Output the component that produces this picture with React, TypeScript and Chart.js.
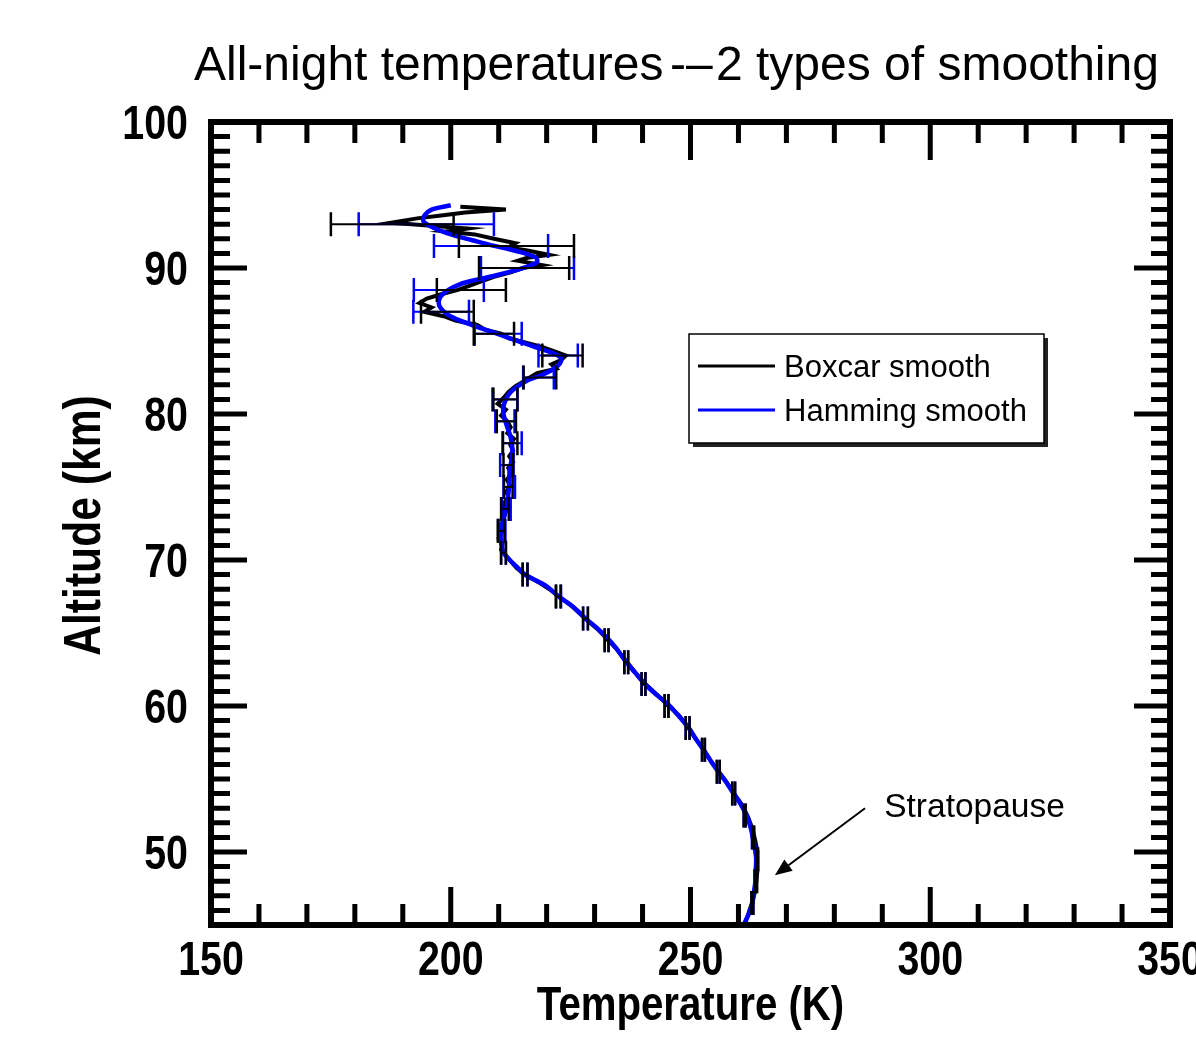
import { useEffect, useRef } from "react";
import { Chart, registerables } from "chart.js";

Chart.register(...registerables);

// ---------- text ----------
const TITLE_PARTS = ["All-night temperatures", "-–", "2 types of smoothing"];
const X_LABEL = "Temperature (K)";
const Y_LABEL = "Altitude (km)";
const SERIES_LABELS = ["Boxcar smooth", "Hamming smooth"];
const ANNOTATION_TEXT = "Stratopause";

// ---------- axes ----------
const X_MIN = 150;
const X_MAX = 350;
const Y_MIN = 45;
const Y_MAX = 100;
const X_TICKS = [150, 200, 250, 300, 350];
const Y_TICKS = [50, 60, 70, 80, 90, 100];
const X_MINOR_STEP = 10;
const Y_MINOR_STEP = 1;

// ---------- Boxcar smooth (black) ----------
const boxcarAlt = [
  94.2, 94.0, 93.8, 93.6, 93.4, 93.1, 92.9, 92.7, 92.5, 92.3, 92.0, 91.7, 91.4, 91.2, 90.9, 90.7,
  90.5, 90.2, 90.0, 89.7, 89.4, 89.1, 88.8, 88.5, 88.2, 87.9, 87.6, 87.3, 87.0, 86.7, 86.4, 86.1,
  85.8, 85.5, 85.2, 84.9, 84.6, 84.3, 84.0, 83.7, 83.4, 83.1, 82.8, 82.5, 82.2, 81.9, 81.5, 81.1,
  80.7, 80.3, 79.9, 79.5, 79.1, 78.7, 78.3, 77.9, 77.5, 77.1, 76.7, 76.3, 75.9, 75.5, 75.1, 74.7,
  74.3, 73.9, 73.5, 73.1, 72.7, 72.3, 71.9, 71.5, 71.1, 70.7, 70.3, 70.0, 69.5, 69.0, 68.5, 68.0,
  67.5, 66.8, 66.0, 65.3, 64.6, 63.9, 63.0, 62.3, 61.6, 60.8, 60.1, 59.3, 58.5, 57.7, 57.0, 56.2,
  55.5, 54.8, 54.0, 53.2, 52.4, 51.6, 50.8, 50.1, 49.5, 48.7, 47.9, 47.2, 46.5, 45.8, 45.3, 45.0,
];
const boxcarTemp = [
  202.0, 211.5, 203.0, 198.0, 193.0, 187.5, 196.0, 203.5, 199.0, 205.0, 209.0, 213.5, 212.0, 216.0, 220.5, 216.0,
  214.0, 219.0, 215.0, 212.5, 209.0, 206.5, 204.0, 201.5, 198.0, 195.0, 193.5, 196.0, 194.5, 198.5, 201.0, 205.5,
  207.0, 210.5, 212.0, 215.5, 219.0, 221.5, 224.0, 223.0, 221.0, 222.0, 218.0, 216.5, 215.0, 213.5, 212.0, 211.0,
  209.8, 211.5, 210.5, 211.8, 212.5, 211.8, 213.2, 212.4, 213.0, 212.2, 213.0, 212.0, 212.6, 211.7, 212.4, 211.6,
  212.0, 211.1, 211.4, 210.8, 211.0, 210.2, 210.6, 210.0, 210.8, 210.5, 211.5, 212.3, 213.6, 215.3, 218.2, 220.6,
  222.6, 225.4, 228.0, 230.5, 232.6, 234.6, 236.8, 238.5, 240.3, 242.9, 245.2, 247.7, 249.7, 251.2, 252.8, 254.3,
  255.9, 257.5, 259.1, 260.8, 262.0, 262.9, 263.5, 263.9, 264.0, 263.9, 263.7, 263.4, 262.8, 262.1, 261.6, 261.2,
];

// ---------- Hamming smooth (blue) ----------
const hammingAlt = [
  94.3, 94.0, 93.6, 93.2, 92.9, 92.6, 92.2, 91.9, 91.6, 91.3, 91.0, 90.7, 90.4, 90.1, 89.8, 89.5,
  89.2, 88.9, 88.5, 88.1, 87.7, 87.3, 86.9, 86.6, 86.2, 85.8, 85.4, 85.0, 84.6, 84.2, 83.9, 83.6,
  83.3, 83.0, 82.6, 82.3, 81.9, 81.5, 81.0, 80.5, 80.0, 79.4, 78.9, 78.4, 77.8, 77.3, 76.7, 76.2,
  75.5, 74.8, 74.2, 73.5, 72.9, 72.3, 71.6, 71.0, 70.5, 70.0, 69.5, 69.0, 68.6, 68.2, 67.5, 66.8,
  66.0, 65.4, 64.7, 64.0, 63.0, 62.3, 61.6, 60.8, 60.1, 59.3, 58.5, 57.7, 57.0, 56.2, 55.5, 54.8,
  54.0, 53.2, 52.4, 51.6, 50.8, 50.1, 49.5, 48.7, 47.9, 47.2, 46.5, 45.8, 45.3, 45.0,
];
const hammingTemp = [
  200.0, 196.0, 194.5, 194.3, 195.5, 197.5, 201.0, 204.5, 208.0, 212.0, 215.5, 217.8, 218.0, 216.0, 213.0, 209.5,
  205.5, 202.0, 199.5, 198.0, 197.5, 197.8, 199.0, 200.5, 203.5, 207.0, 210.5, 214.0, 217.5, 221.0, 222.8, 223.0,
  222.3, 221.0, 218.5, 216.0, 214.0, 212.5, 211.5, 211.0, 211.0, 211.5, 212.0, 212.5, 212.8, 212.9, 212.6, 212.3,
  212.2, 212.1, 211.9, 211.6, 211.1, 210.7, 210.4, 210.6, 211.0, 212.3, 213.9, 215.5, 217.8, 220.0, 222.5, 225.5,
  228.1, 230.3, 232.5, 234.4, 236.6, 238.4, 240.2, 242.8, 245.4, 247.6, 249.6, 251.2, 252.7, 254.3, 255.8, 257.4,
  259.0, 260.6, 261.8, 262.6, 263.1, 263.5, 263.7, 263.6, 263.5, 263.2, 262.9, 262.2, 261.5, 261.0,
];

// ---------- error bars ----------
const errAlt = [
  93.0, 91.5, 90.0, 88.5, 87.0, 85.5, 84.0, 82.5, 81.0, 79.5, 78.0, 76.5, 75.0, 73.5, 72.0, 70.5,
  69.0, 67.5, 66.0, 64.5, 63.0, 61.5, 60.0, 58.5, 57.0, 55.5, 54.0, 52.5, 51.0, 49.5, 48.0, 46.5,
];
const boxcarErrCenter = [
  187.8, 213.7, 215.3, 204.3, 199.3, 209.0, 223.3, 218.6, 211.4, 211.6, 212.4, 212.0, 212.0, 211.3, 210.5, 211.0,
  215.5, 222.4, 228.1, 232.5, 236.6, 240.2, 245.0, 249.4, 252.7, 255.8, 259.0, 261.3, 263.1, 263.9, 263.7, 262.9,
];
const boxcarErrHalf = [
  12.8, 12.0, 9.4, 7.2, 5.5, 4.2, 4.2, 3.4, 2.5, 2.0, 1.5, 1.0, 0.9, 0.8, 0.7, 0.5,
  0.5, 0.5, 0.5, 0.4, 0.4, 0.4, 0.4, 0.4, 0.3, 0.3, 0.3, 0.2, 0.2, 0.2, 0.2, 0.2,
];
const hammingErrCenter = [
  194.9, 208.4, 216.0, 199.6, 198.0, 209.9, 222.4, 218.3, 211.3, 211.3, 212.8, 211.7, 212.2, 211.6, 210.7, 211.0,
  215.5, 222.5, 228.1, 232.5, 236.6, 240.2, 245.0, 249.4, 252.7, 255.8, 259.0, 261.3, 263.0, 263.7, 263.5, 262.9,
];
const hammingErrHalf = [
  14.1, 11.9, 9.7, 7.3, 5.8, 4.9, 4.1, 3.2, 2.6, 2.0, 2.0, 1.4, 1.2, 0.9, 0.7, 0.5,
  0.5, 0.5, 0.5, 0.4, 0.4, 0.4, 0.4, 0.4, 0.3, 0.3, 0.3, 0.2, 0.2, 0.2, 0.2, 0.2,
];

// ---------- annotation (data coordinates) ----------
const annotationTextAt = { x: 290.4, y: 52.4 };
const arrowFrom = { x: 286.4, y: 53.0 };
const arrowTo = { x: 267.6, y: 48.4 };

const BLACK = "#000000";
const BLUE = "#0000ff";
const SANS = "'Liberation Sans', Arial, Helvetica, sans-serif";
const NARROW_SCALE = 0.82;

const toPoints = (xs: number[], ys: number[]) => xs.map((x, i) => ({ x, y: ys[i] }));

// draws horizontally-condensed bold text (Helvetica Narrow look)
function narrowText(
  ctx: CanvasRenderingContext2D,
  text: string,
  x: number,
  y: number,
  size: number,
  align: CanvasTextAlign,
  rotate = 0
) {
  ctx.save();
  ctx.translate(x, y);
  if (rotate) ctx.rotate(rotate);
  ctx.scale(NARROW_SCALE, 1);
  ctx.font = `bold ${size}px ${SANS}`;
  ctx.fillStyle = "#000";
  ctx.textAlign = align;
  ctx.textBaseline = "alphabetic";
  ctx.fillText(text, 0, 0);
  ctx.restore();
}

const axisTextPlugin = {
  id: "axisText",
  afterDraw(chart: any) {
    const { ctx, chartArea: a, scales } = chart;
    const xs = scales.x;
    const ys = scales.y;
    X_TICKS.forEach((v) => narrowText(ctx, String(v), xs.getPixelForValue(v), 975, 48, "center"));
    Y_TICKS.forEach((v) => narrowText(ctx, String(v), 188, ys.getPixelForValue(v) + 17, 48, "right"));
    narrowText(ctx, X_LABEL, (a.left + a.right) / 2, 1020, 49, "center");
    narrowText(ctx, Y_LABEL, 100, (a.top + a.bottom) / 2 + 2, 52, "center", -Math.PI / 2);
  },
};

const titlePlugin = {
  id: "titleText",
  afterDraw(chart: any) {
    const ctx = chart.ctx;
    ctx.save();
    ctx.fillStyle = "#000";
    ctx.font = `48px ${SANS}`;
    ctx.textBaseline = "alphabetic";
    ctx.textAlign = "left";
    const xs = [194, 670, 716];
    TITLE_PARTS.forEach((t, i) => ctx.fillText(t, xs[i], 80));
    ctx.restore();
  },
};

const errorBarPlugin = {
  id: "errorBars",
  afterDatasetsDraw(chart: any) {
    const { ctx, scales } = chart;
    const xs = scales.x;
    const ys = scales.y;
    const drawSet = (centers: number[], halves: number[], color: string) => {
      ctx.save();
      ctx.strokeStyle = color;
      ctx.lineCap = "butt";
      errAlt.forEach((a, i) => {
        const py = ys.getPixelForValue(a);
        const x1 = xs.getPixelForValue(centers[i] - halves[i]);
        const x2 = xs.getPixelForValue(centers[i] + halves[i]);
        ctx.lineWidth = 2;
        ctx.beginPath();
        ctx.moveTo(x1, py);
        ctx.lineTo(x2, py);
        ctx.stroke();
        ctx.lineWidth = 2.5;
        ctx.beginPath();
        ctx.moveTo(x1, py - 12);
        ctx.lineTo(x1, py + 12);
        ctx.moveTo(x2, py - 12);
        ctx.lineTo(x2, py + 12);
        ctx.stroke();
      });
      ctx.restore();
    };
    drawSet(hammingErrCenter, hammingErrHalf, BLUE);
    drawSet(boxcarErrCenter, boxcarErrHalf, BLACK);
  },
};

const frameTicksPlugin = {
  id: "frameTicks",
  afterDatasetsDraw(chart: any) {
    const { ctx, chartArea: a, scales } = chart;
    const xs = scales.x;
    const ys = scales.y;
    ctx.save();
    ctx.strokeStyle = "#000";
    ctx.lineCap = "butt";
    ctx.lineWidth = 5;
    ctx.beginPath();
    for (let v = X_MIN + X_MINOR_STEP; v < X_MAX; v += X_MINOR_STEP) {
      const px = xs.getPixelForValue(v);
      const len = X_TICKS.includes(v) ? 38 : 21;
      ctx.moveTo(px, a.bottom);
      ctx.lineTo(px, a.bottom - len);
      ctx.moveTo(px, a.top);
      ctx.lineTo(px, a.top + len);
    }
    for (let v = Y_MIN + Y_MINOR_STEP; v < Y_MAX; v += Y_MINOR_STEP) {
      const py = ys.getPixelForValue(v);
      const len = Y_TICKS.includes(v) ? 36 : 19;
      ctx.moveTo(a.left, py);
      ctx.lineTo(a.left + len, py);
      ctx.moveTo(a.right, py);
      ctx.lineTo(a.right - len, py);
    }
    ctx.stroke();
    ctx.lineWidth = 6;
    ctx.strokeRect(a.left, a.top, a.right - a.left, a.bottom - a.top);
    ctx.restore();
  },
};

const legendPlugin = {
  id: "boxLegend",
  afterDraw(chart: any) {
    const ctx = chart.ctx;
    const bx = 689;
    const by = 334;
    const bw = 355;
    const bh = 109;
    ctx.save();
    ctx.fillStyle = "#222";
    ctx.fillRect(bx + 4, by + 4, bw, bh);
    ctx.fillStyle = "#fff";
    ctx.fillRect(bx, by, bw, bh);
    ctx.strokeStyle = "#000";
    ctx.lineWidth = 1.5;
    ctx.strokeRect(bx, by, bw, bh);
    const rows = [366, 410];
    chart.data.datasets.forEach((ds: any, i: number) => {
      const y = rows[i];
      ctx.strokeStyle = ds.borderColor;
      ctx.lineWidth = 3;
      ctx.beginPath();
      ctx.moveTo(698, y);
      ctx.lineTo(775, y);
      ctx.stroke();
      ctx.fillStyle = "#000";
      ctx.font = `31px ${SANS}`;
      ctx.textBaseline = "middle";
      ctx.textAlign = "left";
      ctx.fillText(ds.label, 784, y + 2);
    });
    ctx.restore();
  },
};

const annotationPlugin = {
  id: "stratoAnnotation",
  afterDraw(chart: any) {
    const { ctx, scales } = chart;
    const xs = scales.x;
    const ys = scales.y;
    const tx = xs.getPixelForValue(annotationTextAt.x);
    const ty = ys.getPixelForValue(annotationTextAt.y);
    const fx = xs.getPixelForValue(arrowFrom.x);
    const fy = ys.getPixelForValue(arrowFrom.y);
    const ex = xs.getPixelForValue(arrowTo.x);
    const ey = ys.getPixelForValue(arrowTo.y);
    ctx.save();
    ctx.fillStyle = "#000";
    ctx.font = `33.5px ${SANS}`;
    ctx.textBaseline = "alphabetic";
    ctx.textAlign = "left";
    ctx.fillText(ANNOTATION_TEXT, tx, ty);
    const ang = Math.atan2(ey - fy, ex - fx);
    const headLen = 17;
    const headW = 7;
    const bx = ex - headLen * Math.cos(ang);
    const by = ey - headLen * Math.sin(ang);
    ctx.strokeStyle = "#000";
    ctx.lineWidth = 2;
    ctx.beginPath();
    ctx.moveTo(fx, fy);
    ctx.lineTo(bx, by);
    ctx.stroke();
    ctx.beginPath();
    ctx.moveTo(ex, ey);
    ctx.lineTo(bx + headW * Math.sin(ang), by - headW * Math.cos(ang));
    ctx.lineTo(bx - headW * Math.sin(ang), by + headW * Math.cos(ang));
    ctx.closePath();
    ctx.fill();
    ctx.restore();
  },
};

export default function App() {
  const ref = useRef<HTMLCanvasElement | null>(null);

  useEffect(() => {
    if (!ref.current) return;
    const chart = new Chart(ref.current, {
      type: "scatter",
      data: {
        datasets: [
          {
            label: SERIES_LABELS[0],
            data: toPoints(boxcarTemp, boxcarAlt),
            showLine: true,
            borderColor: BLACK,
            backgroundColor: BLACK,
            borderWidth: 4,
            pointRadius: 0,
            tension: 0,
            order: 1,
          },
          {
            label: SERIES_LABELS[1],
            data: toPoints(hammingTemp, hammingAlt),
            showLine: true,
            borderColor: BLUE,
            backgroundColor: BLUE,
            borderWidth: 4.5,
            pointRadius: 0,
            tension: 0.3,
            order: 0,
          },
        ],
      },
      options: {
        responsive: false,
        animation: false,
        devicePixelRatio: 1,
        layout: { padding: { top: 122, right: 26, bottom: 0, left: 0 } },
        plugins: {
          legend: { display: false },
          title: { display: false },
          tooltip: { enabled: false },
        },
        scales: {
          x: {
            type: "linear",
            position: "bottom",
            min: X_MIN,
            max: X_MAX,
            grid: { display: false, drawTicks: false },
            border: { display: false },
            afterBuildTicks: (s: any) => {
              s.ticks = X_TICKS.map((v) => ({ value: v }));
            },
            afterFit: (s: any) => {
              s.height = 121;
              s.paddingLeft = 0;
              s.paddingRight = 0;
            },
            ticks: { display: false },
            title: { display: false, text: X_LABEL },
          },
          y: {
            type: "linear",
            position: "left",
            min: Y_MIN,
            max: Y_MAX,
            grid: { display: false, drawTicks: false },
            border: { display: false },
            afterBuildTicks: (s: any) => {
              s.ticks = Y_TICKS.map((v) => ({ value: v }));
            },
            afterFit: (s: any) => {
              s.width = 211;
              s.paddingTop = 0;
              s.paddingBottom = 0;
            },
            ticks: { display: false },
            title: { display: false, text: Y_LABEL },
          },
        },
      },
      plugins: [errorBarPlugin, frameTicksPlugin, axisTextPlugin, titlePlugin, legendPlugin, annotationPlugin],
    } as any);
    return () => chart.destroy();
  }, []);

  return (
    <div
      style={{
        position: "fixed",
        left: 0,
        top: 0,
        width: 1196,
        height: 1046,
        background: "#fff",
      }}
    >
      <canvas ref={ref} width={1196} height={1046} style={{ display: "block" }} />
    </div>
  );
}
